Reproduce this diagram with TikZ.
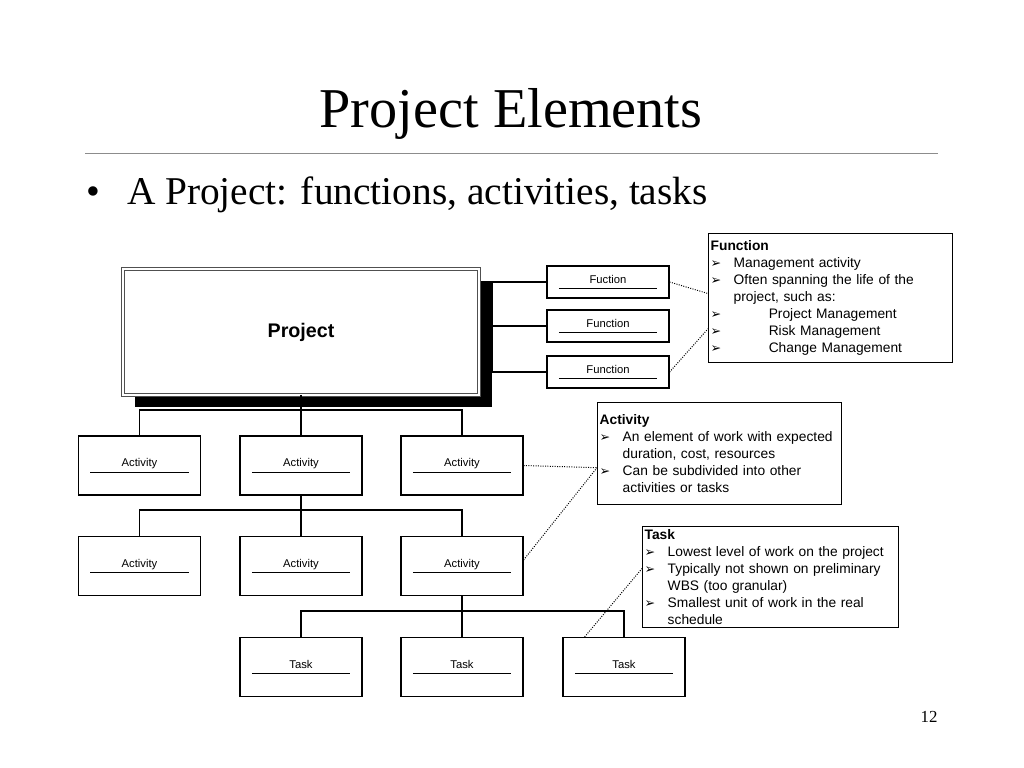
\documentclass[tikz,border=0pt]{standalone}
\usepackage{fontspec}
\setmainfont{Liberation Serif}
\newfontfamily\diagfont{Liberation Sans}
\newfontfamily\symfont{DejaVu Sans}
\usetikzlibrary{calc}
\definecolor{rule-gray}{HTML}{8C8C8C}
\definecolor{frame-gray}{HTML}{505050}

\newcommand{\arrowmark}{{\symfont\fontsize{9pt}{9pt}\selectfont ➢}}
\newcommand{\itm}[1]{\makebox[16.4pt][l]{\arrowmark}#1}
\newcommand{\subitm}[1]{\makebox[41.3pt][l]{\arrowmark}#1}
\newcommand{\cont}[1]{\hspace*{16.4pt}#1}

\begin{document}
\begin{tikzpicture}[x=0.025cm, y=-0.025cm,
      elembox/.style={draw, line width=0.8pt, fill=white,
          minimum width=3.05cm, minimum height=1.475cm,
          text height=5.5pt, text depth=3.5pt,
          font=\diagfont\fontsize{8pt}{9pt}\selectfont,
          path picture={\draw[line width=0.6pt]
              ([xshift=0.3cm,yshift=-0.17cm]path picture bounding box.west) --
              ([xshift=-0.3cm,yshift=-0.17cm]path picture bounding box.east);}},
      fnbox/.style={elembox, minimum height=0.8cm},
      infobox/.style={draw, line width=0.8pt, anchor=north west, align=left,
          inner xsep=1.5pt, inner ysep=0pt,
          font=\diagfont\fontsize{9.8pt}{12.1pt}\selectfont},
      link/.style={line width=0.8pt},
      dotlink/.style={line width=0.7pt, densely dotted}]
    \useasboundingbox (0,0) rectangle (1024,768);

    % slide title and bullet
    \node[anchor=base, font=\fontsize{40pt}{44pt}\selectfont] (Title) at (511,128) {Project Elements};
    \draw[rule-gray, line width=0.6pt] (85,153) -- (938,153);
    \node[anchor=base west, inner sep=0pt, font=\fontsize{28pt}{32pt}\selectfont]
          (Bullet) at (86,204) {\makebox[29pt][l]{•}A Project: functions, activities, tasks};
    \node[anchor=base, font=\fontsize{12pt}{14pt}\selectfont] (PageNo) at (929,722) {12};

    % project box with its shadow
    \node[fill=black, minimum width=8.925cm, minimum height=3.15cm] (Shadow) at (313.5,344) {};
    \node[draw=frame-gray, double=white, double distance=1.3pt, line width=0.6pt, fill=white,
          minimum width=8.9cm, minimum height=3.15cm,
          font=\diagfont\bfseries\fontsize{14pt}{16pt}\selectfont] (Project) at (301,332) {Project};

    % functions
    \node[fnbox] (F1) at (608,282) {Fuction};
    \node[fnbox] (F2) at (608,326) {Function};
    \node[fnbox] (F3) at (608,372) {Function};
    \draw[link] (F1.west) -- (F1.west -| Shadow.east) |- (F3.west);
    \draw[link] (F2.west) -- (F2.west -| Shadow.east);

    % activities
    \node[elembox] (A1) at (139.5,465.5) {Activity};
    \node[elembox] (A2) at (301,465.5) {Activity};
    \node[elembox] (A3) at (462,465.5) {Activity};
    \node[elembox] (A4) at (139.5,566) {Activity};
    \node[elembox] (A5) at (301,566) {Activity};
    \node[elembox] (A6) at (462,566) {Activity};
    \draw[link] (Project.south) -- (Project.south |- 0,410);
    \draw[link] (A1.north) |- (A3.north |- 0,410) -- (A3.north);
    \draw[link] (A2.north) -- (A2.north |- 0,410);
    \draw[link] (A2.south) -- (A2.south |- 0,510);
    \draw[link] (A4.north) |- (A6.north |- 0,510) -- (A6.north);
    \draw[link] (A5.north) -- (A5.north |- 0,510);

    % tasks
    \node[elembox] (T1) at (301,667) {Task};
    \node[elembox] (T2) at (462,667) {Task};
    \node[elembox] (T3) at (624,667) {Task};
    \draw[link] (A6.south) -- (A6.south |- 0,611);
    \draw[link] (T1.north) |- (T3.north |- 0,611) -- (T3.north);
    \draw[link] (T2.north) -- (T2.north |- 0,611);

    % explanation boxes
    \node[infobox, text width=170.6pt, minimum height=3.225cm] (FnInfo) at (708,233)
        {\textbf{Function}\\
         \itm{Management activity}\\
         \itm{Often spanning the life of the}\\
         \cont{project, such as:}\\
         \subitm{Project Management}\\
         \subitm{Risk Management}\\
         \subitm{Change Management}};
    \node[infobox, text width=170.6pt, minimum height=2.55cm] (ActInfo) at (597,402)
        {\textbf{Activity}\\
         \itm{An element of work with expected}\\
         \cont{duration, cost, resources}\\
         \itm{Can be subdivided into other}\\
         \cont{activities or tasks}};
    \node[infobox, text width=179.1pt, minimum height=2.525cm] (TaskInfo) at (642,526)
        {\textbf{Task}\\
         \itm{Lowest level of work on the project}\\
         \itm{Typically not shown on preliminary}\\
         \cont{WBS (too granular)}\\
         \itm{Smallest unit of work in the real}\\
         \cont{schedule}};

    % dotted pointers
    \draw[dotlink] (F1.east) -- ($(FnInfo.north west)!0.465!(FnInfo.south west)$);
    \draw[dotlink] (F3.east) -- ($(FnInfo.north west)!0.736!(FnInfo.south west)$);
    \draw[dotlink] (A3.east) -- ($(ActInfo.north west)!0.637!(ActInfo.south west)$);
    \draw[dotlink] ($(A6.north east)!0.4!(A6.south east)$) -- ($(ActInfo.north west)!0.637!(ActInfo.south west)$);
    \draw[dotlink] ($(T3.north west)!0.18!(T3.north east)$) -- ($(TaskInfo.north west)!0.416!(TaskInfo.south west)$);
\end{tikzpicture}
\end{document}
